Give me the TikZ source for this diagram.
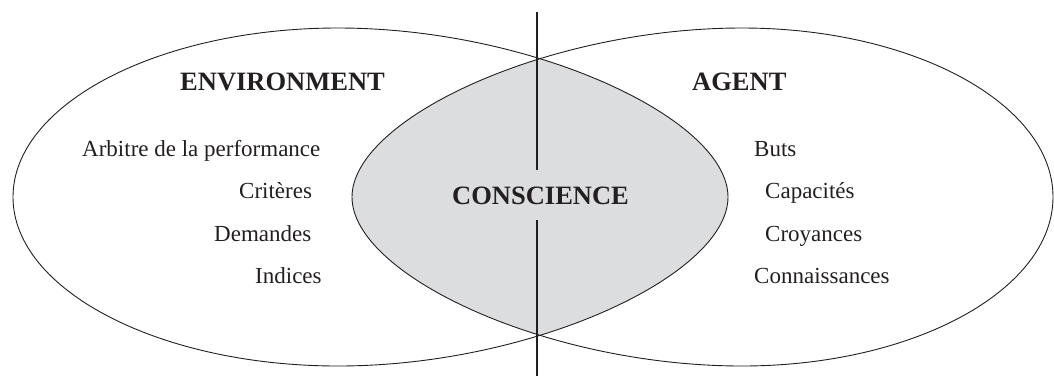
\documentclass[tikz,border=0pt]{standalone}
\usepackage{fontspec}
\setmainfont{Liberation Serif}
\usepackage{tikz}
\usetikzlibrary{positioning}

\definecolor{inkline}{HTML}{231F20}
\definecolor{lensgray}{HTML}{DCDDDF}

% outlines of the two egg shaped areas
\newcommand{\envpath}{(envL) .. controls +(0,-93) and +(-179,0) .. (envT)
  .. controls +(195,0) and +(0,-78) .. (envR)
  .. controls +(0,78) and +(195,0) .. (envB)
  .. controls +(-179,0) and +(0,93) .. (envL) -- cycle}
\newcommand{\agentpath}{(agL) .. controls +(0,-78) and +(-195,0) .. (agT)
  .. controls +(172,0) and +(0,-93) .. (agR)
  .. controls +(0,93) and +(172,0) .. (agB)
  .. controls +(-195,0) and +(0,78) .. (agL) -- cycle}

\begin{document}
\begin{tikzpicture}[x=1pt,y=-1pt,
                    outline/.style={draw=inkline,line width=0.9pt},
                    title/.style={inner sep=0pt,anchor=base west,text=inkline,
                      font=\fontsize{26.5}{30}\selectfont\bfseries},
                    item/.style={inner sep=0pt,anchor=base west,text=inkline,
                      font=\fontsize{23}{27}\selectfont}]
  \useasboundingbox (0,0) rectangle (1054,376);

  \coordinate (envL) at (13,197);
  \coordinate (envT) at (338,28);
  \coordinate (envR) at (728,197);
  \coordinate (envB) at (338,366);
  \coordinate (agL) at (352,197);
  \coordinate (agT) at (742,28);
  \coordinate (agR) at (1053,197);
  \coordinate (agB) at (742,366);

  % shaded overlap
  \begin{scope}
    \clip \envpath;
    \fill[lensgray] \agentpath;
  \end{scope}
  \draw[outline] \envpath;
  \draw[outline] \agentpath;

  % dividing line
  \coordinate (lineT) at (537,12);
  \coordinate (gapT) at (537,170);
  \coordinate (gapB) at (537,220);
  \coordinate (lineB) at (537,376);
  \draw[draw=inkline,line width=1.8pt] (lineT) -- (gapT) (gapB) -- (lineB);

  \node[title] (env) at (180,90) {ENVIRONMENT};
  \node[title] (agent) at (692,90) {AGENT};
  \node[title] (consc) at (452,204) {CONSCIENCE};

  \node[item] (arb) at (82,156) {Arbitre de la performance};
  \node[item] (crit) at (239,198) {Critères};
  \node[item] (dem) at (214,241) {Demandes};
  \node[item] (ind) at (255,283) {Indices};

  \node[item] (buts) at (754,156) {Buts};
  \node[item] (capa) at (765,198) {Capacités};
  \node[item] (croy) at (765,241) {Croyances};
  \node[item] (conn) at (754,283) {Connaissances};
\end{tikzpicture}
\end{document}
